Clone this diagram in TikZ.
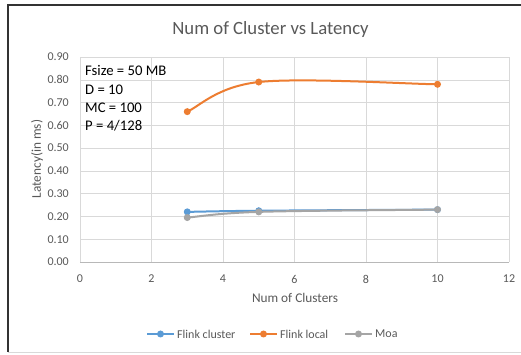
\documentclass[tikz,border=0pt]{standalone}
\usepackage{fontspec}
\setmainfont{Carlito}
\usetikzlibrary{positioning}
\definecolor{fcluster}{HTML}{5B9BD5}
\definecolor{flocal}{HTML}{ED7D31}
\definecolor{moa}{HTML}{A5A5A5}
\definecolor{gridc}{HTML}{D9D9D9}
\definecolor{txt}{HTML}{595959}

\begin{document}
\begin{tikzpicture}[x=1pt,y=1pt,
	tick/.style={text=txt,font=\fontsize{12}{14}\selectfont,inner sep=0pt},
	axtitle/.style={text=txt,font=\fontsize{13.3}{16}\selectfont,inner sep=0pt},
	param/.style={anchor=base west,inner sep=0pt,font=\fontsize{14.7}{18}\selectfont},
	series/.style={line width=2pt,line join=round,line cap=round},
	dot/.style={circle,fill,inner sep=0pt,minimum size=7pt}]
	\useasboundingbox (0,0) rectangle (521,355);
	\fill[white] (0,0) rectangle (521,355);
	\draw[line width=1.4pt,black!80] (521,350) -- (8,350) -- (8,3);
	\draw[gridc] (8,2.5) -- (521,2.5);
	% title and axis titles
	\node[text=txt,font=\fontsize{18.7}{22}\selectfont,inner sep=0pt] (title) at (270.5,325) {Num of Cluster vs Latency};
	\node[axtitle] (xtitle) at (295,57) {Num of Clusters};
	\node[axtitle,rotate=90] (ytitle) at (37,196) {Latency(in ms)};
	% plot area
	\begin{scope}[shift={(80,93)},x=35.75pt,y=227.8pt]
		\foreach \i in {1,...,9} \draw[gridc] (0,\i/10) -- (12,\i/10);
		\foreach \i in {0,2,...,12} \draw[gridc] (\i,0) -- (\i,0.9);
		\draw[black!28] (0,0) -- (12,0);
		\foreach \l [count=\i from 0] in {0.00,0.10,0.20,0.30,0.40,0.50,0.60,0.70,0.80,0.90}
			\node[tick,anchor=east] (ylab\i) at ([xshift=-11pt]0,\i/10) {\l};
		\foreach \i in {0,2,...,12}
			\node[tick] (xlab\i) at ([yshift=-17pt]\i,0) {\i};
		% data
		\coordinate (fc3) at (3,0.22);
		\coordinate (fc5) at (5,0.225);
		\coordinate (fc10) at (10,0.23);
		\coordinate (fl3) at (3,0.66);
		\coordinate (fl5) at (5,0.79);
		\coordinate (fl10) at (10,0.78);
		\coordinate (mo3) at (3,0.195);
		\coordinate (mo5) at (5,0.22);
		\coordinate (mo10) at (10,0.23);
		% smoothed lines
		\draw[series,flocal] (fl3) .. controls (3.333,0.682) and (3.833,0.77) .. (fl5)
			.. controls (6.167,0.81) and (9.167,0.7817) .. (fl10);
		\foreach \p in {fl3,fl5,fl10} \node[dot,flocal] at (\p) {};
		\draw[series,fcluster] (fc3) .. controls (3.333,0.2208) and (3.833,0.2233) .. (fc5)
			.. controls (6.167,0.2267) and (9.167,0.2292) .. (fc10);
		\foreach \p in {fc3,fc5,fc10} \node[dot,fcluster] at (\p) {};
		\draw[series,moa] (mo3) .. controls (3.333,0.1992) and (3.833,0.2142) .. (mo5)
			.. controls (6.167,0.2258) and (9.167,0.2283) .. (mo10);
		\foreach \p in {mo3,mo5,mo10} \node[dot,moa] at (\p) {};
	\end{scope}
	% parameters
	\node[param] (fsize) at (85,279) {Fsize = 50 MB};
	\node[param] (dval) at ([yshift=-18.3pt]fsize.base west) {D = 10};
	\node[param] (mcval) at ([yshift=-18.3pt]dval.base west) {MC = 100};
	\node[param] (pval) at ([yshift=-18.3pt]mcval.base west) {P = 4/128};
	% legend
	\coordinate (lg1a) at (147,21);
	\coordinate (lg1b) at (174,21);
	\coordinate (lg2a) at (250,21);
	\coordinate (lg2b) at (277,21);
	\coordinate (lg3a) at (345,21);
	\coordinate (lg3b) at (372,21);
	\draw[series,line cap=butt,fcluster] (lg1a) -- node[dot] (lgdot1) {} (lg1b);
	\draw[series,line cap=butt,flocal] (lg2a) -- node[dot] (lgdot2) {} (lg2b);
	\draw[series,line cap=butt,moa] (lg3a) -- node[dot] (lgdot3) {} (lg3b);
	\node[tick,anchor=west] (lgtxt1) [right=3pt of lg1b] {Flink cluster};
	\node[tick,anchor=west] (lgtxt2) [right=3pt of lg2b] {Flink local};
	\node[tick,anchor=west] (lgtxt3) [right=3pt of lg3b] {Moa};
\end{tikzpicture}
\end{document}
